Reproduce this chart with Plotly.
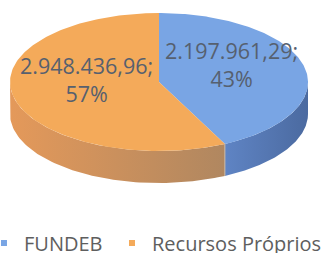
import numpy as np
import plotly.graph_objects as go

# ---- data ----
categories = ["FUNDEB", "Recursos Próprios"]
values = [2197961.29, 2948436.96]

# ---- style ----
top_colors = ["#79a5e4", "#f4aa5a"]
side_scales = [[[0, "#5f84c4"], [1, "#4b6aa0"]],
               [[0, "#e4995a"], [1, "#b08760"]]]
label_color = "#56606f"

W, H = 327, 253
cx, cy, a, b, depth = 159, 82, 149, 69, 32


def pt(t, dz=0.0):
    return cx + a * np.sin(t), cy - b * np.cos(t) + dz


def fmt_br(v):
    s = f"{v:,.2f}"
    return s.replace(",", "X").replace(".", ",").replace("X", ".")


total = sum(values)
fracs = [v / total for v in values]
starts = np.concatenate([[0], np.cumsum(fracs)[:-1]]) * 2 * np.pi
ends = np.cumsum(fracs) * 2 * np.pi

fig = go.Figure()

# sides (front half only: angle 90..270 deg)
for i in range(len(values)):
    t0 = max(starts[i], np.pi / 2)
    t1 = min(ends[i], 3 * np.pi / 2)
    if t1 <= t0:
        continue
    ts = np.linspace(t0, t1, 80)
    xt, yt = pt(ts)
    xb, yb = pt(ts[::-1], depth)
    xs = np.concatenate([xt, xb, xt[:1]])
    ys = np.concatenate([yt, yb, yt[:1]])
    fig.add_trace(go.Scatter(
        x=xs, y=ys, mode="lines", fill="toself",
        line=dict(width=0), showlegend=False, hoverinfo="skip",
        fillgradient=dict(type="horizontal", colorscale=side_scales[i]),
    ))

# boundary line on side between slices
for i in range(len(values)):
    t = ends[i]
    if np.pi / 2 < t < 3 * np.pi / 2:
        x0, y0 = pt(t)
        x1, y1 = pt(t, depth)
        fig.add_trace(go.Scatter(x=[x0, x1], y=[y0, y1], mode="lines",
                                 line=dict(width=1, color="#c9b9a8"),
                                 showlegend=False, hoverinfo="skip"))

# top faces
for i in range(len(values)):
    ts = np.linspace(starts[i], ends[i], 200)
    xa, ya = pt(ts)
    xs = np.concatenate([[cx], xa, [cx]])
    ys = np.concatenate([[cy], ya, [cy]])
    fig.add_trace(go.Scatter(
        x=xs, y=ys, mode="lines", fill="toself",
        fillcolor=top_colors[i], line=dict(width=0),
        showlegend=False, hoverinfo="skip",
    ))

# labels
for i in range(len(values)):
    mid = (starts[i] + ends[i]) / 2
    lx = cx + a * 0.5 * np.sin(mid)
    ly = cy - b * 0.5 * np.cos(mid) - 10
    fig.add_annotation(
        x=lx, y=ly, xref="x", yref="y", showarrow=False,
        text=f"{fmt_br(values[i])};<br>{round(fracs[i] * 100)}%",
        font=dict(family="Open Sans", size=21.5, color=label_color),
    )

# legend entries (one legend per entry for exact placement)
legend_names = ["legend", "legend2"]
for i, c in enumerate(categories):
    fig.add_trace(go.Scatter(
        x=[None], y=[None], mode="markers", name=c,
        legend=legend_names[i],
        marker=dict(symbol="square", size=6, color=top_colors[i]),
    ))

leg_common = dict(orientation="h", xanchor="left", y=0.04, yanchor="middle",
                  bgcolor="rgba(0,0,0,0)", itemwidth=30,
                  font=dict(family="Open Sans", size=20, color="#5e5e5e"))

fig.update_layout(
    width=W, height=H,
    margin=dict(l=0, r=0, t=0, b=0, autoexpand=False),
    paper_bgcolor="white", plot_bgcolor="white",
    xaxis=dict(range=[0, W], visible=False, fixedrange=True),
    yaxis=dict(range=[H, 0], visible=False, fixedrange=True),
    showlegend=True,
    legend=dict(x=-0.049, **leg_common),
    legend2=dict(x=0.3425, **leg_common),
)

fig.write_html("out.html", config={"displayModeBar": False},
               post_script="document.body.style.margin='0';")
